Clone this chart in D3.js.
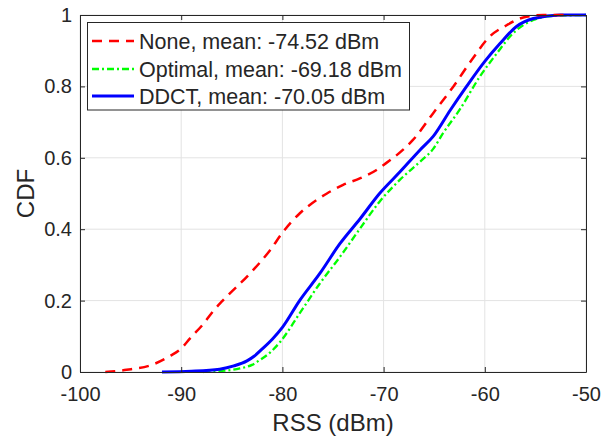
<!DOCTYPE html>
<html>
<head>
<meta charset="utf-8">
<script src="https://cdn.jsdelivr.net/npm/d3@7"></script>
<style>
  body { margin: 0; background: #fff; }
  svg text { font-family: "Liberation Sans", Arial, sans-serif; fill: #262626; }
</style>
</head>
<body>
<svg id="chart"></svg>
<script>
// values (RSS in dBm -> CDF)
const noneX = [-97.5, -95.4, -92.9, -91.1, -90, -89.1, -87.8, -86.8, -85.9, -83.2, -81.2, -80, -78.3, -76.6, -75.6, -74.0, -72.3, -70.7, -70, -68.1, -67.1, -65.1, -63.1, -61.3, -59.5, -57.8, -56.2, -54.2, -52];
const noneY = [0, 0.006, 0.02, 0.045, 0.066, 0.095, 0.135, 0.172, 0.2, 0.276, 0.342, 0.39, 0.444, 0.482, 0.5, 0.524, 0.543, 0.566, 0.58, 0.622, 0.65, 0.725, 0.8, 0.874, 0.94, 0.972, 0.993, 1, 1];

const optX = [-87.8, -85.5, -84.2, -83, -82.2, -81.2, -80.2, -78.3, -76.3, -74.3, -72.3, -70.4, -68.4, -66.4, -65.1, -64.1, -62.5, -60.5, -58.8, -57.2, -55.2, -53.5, -50];
const optY = [0, 0.004, 0.01, 0.02, 0.034, 0.055, 0.085, 0.164, 0.248, 0.323, 0.403, 0.477, 0.538, 0.589, 0.625, 0.67, 0.734, 0.827, 0.893, 0.949, 0.986, 0.997, 1];

const ddctX = [-91.9, -89, -86.2, -84.8, -83.5, -82.8, -82.1, -81, -80, -78.3, -76.3, -74.3, -72.3, -70.4, -68.4, -66.4, -65.1, -63.4, -61.8, -60, -58.5, -56.9, -55.2, -52.5, -50];
const ddctY = [0, 0.002, 0.008, 0.017, 0.031, 0.044, 0.062, 0.092, 0.125, 0.2, 0.276, 0.36, 0.43, 0.5, 0.56, 0.622, 0.66, 0.734, 0.8, 0.87, 0.92, 0.967, 0.99, 1, 1];

const seriesNames = ["None, mean: -74.52 dBm", "Optimal, mean: -69.18 dBm", "DDCT, mean: -70.05 dBm"];
const xTicks = [-100, -90, -80, -70, -60, -50];
const xTickLabels = ["-100", "-90", "-80", "-70", "-60", "-50"];
const yTicks = [0, 0.2, 0.4, 0.6, 0.8, 1];
const yTickLabels = ["0", "0.2", "0.4", "0.6", "0.8", "1"];

const width = 610, height = 438;
const margin = { top: 15, right: 24, bottom: 66, left: 80 };

const svg = d3.select("#chart")
  .attr("width", width)
  .attr("height", height);

svg.append("rect").attr("width", width).attr("height", height).attr("fill", "#fff");

const x = d3.scaleLinear().domain([-100, -50]).range([margin.left, width - margin.right]);
const y = d3.scaleLinear().domain([0, 1]).range([height - margin.bottom, margin.top]);

// grid
const grid = svg.append("g").attr("stroke", "#e3e3e3").attr("stroke-width", 1);
grid.selectAll(".gx").data(xTicks).enter().append("line")
  .attr("x1", d => x(d)).attr("x2", d => x(d))
  .attr("y1", y(0)).attr("y2", y(1));
grid.selectAll(".gy").data(yTicks).enter().append("line")
  .attr("x1", x(-100)).attr("x2", x(-50))
  .attr("y1", d => y(d)).attr("y2", d => y(d));

// curves
const series = [
  { xs: noneX, ys: noneY, color: "#ff0000", width: 2.5, dash: "10,7" },
  { xs: optX, ys: optY, color: "#00ff00", width: 2.3, dash: "7,3,2,3" },
  { xs: ddctX, ys: ddctY, color: "#0000ff", width: 3, dash: null }
];

const line = d3.line()
  .x(d => x(d[0]))
  .y(d => y(d[1]))
  .curve(d3.curveMonotoneX);

[1, 2, 0].forEach(i => {
  const s = series[i];
  svg.append("path")
    .datum(s.xs.map((v, j) => [v, s.ys[j]]))
    .attr("fill", "none")
    .attr("stroke", s.color)
    .attr("stroke-width", s.width)
    .attr("stroke-dasharray", s.dash)
    .attr("d", line);
});

// axes (ticks pointing inwards, box on)
const axisColor = "#262626";
const styleAxis = g => {
  g.select(".domain").attr("stroke", axisColor);
  g.selectAll(".tick line").attr("stroke", axisColor);
  g.selectAll("text").attr("fill", axisColor).style("font-size", "20px")
    .style("font-family", "'Liberation Sans', Arial, sans-serif");
};

svg.append("g")
  .attr("transform", `translate(0, ${y(0)})`)
  .call(d3.axisBottom(x).tickValues(xTicks).tickSize(-5).tickSizeOuter(0).tickPadding(15)
    .tickFormat((d, i) => xTickLabels[i]))
  .call(styleAxis);

svg.append("g")
  .attr("transform", `translate(0, ${y(1)})`)
  .call(d3.axisTop(x).tickValues(xTicks).tickSize(-5).tickSizeOuter(0).tickFormat(""))
  .call(styleAxis);

svg.append("g")
  .attr("transform", `translate(${x(-100)}, 0)`)
  .call(d3.axisLeft(y).tickValues(yTicks).tickSize(-5).tickSizeOuter(0).tickPadding(8)
    .tickFormat((d, i) => yTickLabels[i]))
  .call(styleAxis);

svg.append("g")
  .attr("transform", `translate(${x(-50)}, 0)`)
  .call(d3.axisRight(y).tickValues(yTicks).tickSize(-5).tickSizeOuter(0).tickFormat(""))
  .call(styleAxis);

// axis labels
svg.append("text")
  .attr("x", (x(-100) + x(-50)) / 2)
  .attr("y", 431)
  .attr("text-anchor", "middle")
  .style("font-size", "24px")
  .text("RSS (dBm)");

svg.append("text")
  .attr("transform", `translate(34, ${(y(0) + y(1)) / 2}) rotate(-90)`)
  .attr("text-anchor", "middle")
  .style("font-size", "24px")
  .text("CDF");

// legend
const legend = svg.append("g");
legend.append("rect")
  .attr("x", 87.5).attr("y", 22.5)
  .attr("width", 322).attr("height", 87.5)
  .attr("fill", "#fff")
  .attr("stroke", axisColor)
  .attr("stroke-width", 1);

const rowY = [41, 69, 96];
series.forEach((s, i) => {
  legend.append("line")
    .attr("x1", 92).attr("x2", 134)
    .attr("y1", rowY[i]).attr("y2", rowY[i])
    .attr("stroke", s.color)
    .attr("stroke-width", s.width)
    .attr("stroke-dasharray", s.dash);
  legend.append("text")
    .attr("x", 139)
    .attr("y", rowY[i])
    .attr("dy", "0.36em")
    .style("font-size", "21.5px")
    .text(seriesNames[i]);
});
</script>
</body>
</html>
